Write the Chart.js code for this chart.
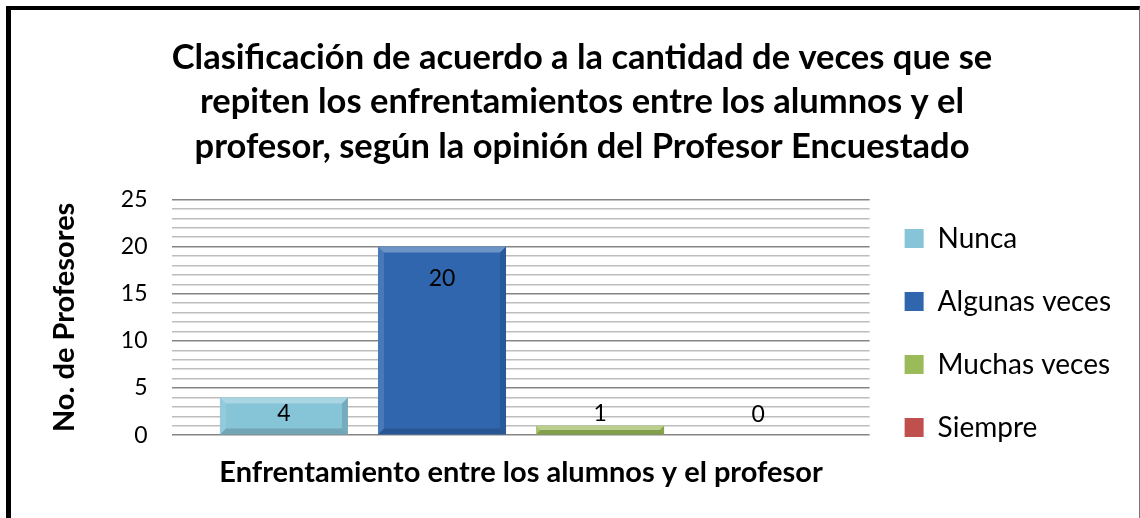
<!DOCTYPE html>
<html>
<head>
<meta charset="utf-8">
<script src="https://cdn.jsdelivr.net/npm/chart.js@4"></script>
<style>
    body { margin: 0; background: #fff; }
    #frame {
        position: absolute; left: 6px; top: 6px; width: 1128px; height: 520px;
        border-left: 5px solid #000; border-top: 4px solid #000; border-right: 1px solid #777;
    }
    #wrap { position: absolute; left: 0; top: 0; width: 1128px; height: 508px; }
</style>
</head>
<body>
<div id="frame"><div id="wrap"><canvas id="barChart"></canvas></div></div>
<script>
const titleLines = [
    "Clasificación de acuerdo a la cantidad de veces que se",
    "repiten los enfrentamientos entre los alumnos y el",
    "profesor, según la opinión del Profesor Encuestado"
];
const categories = ["Enfrentamiento entre los alumnos y el profesor"];
const seriesNames = ["Nunca", "Algunas veces", "Muchas veces", "Siempre"];
const seriesValues = [4, 20, 1, 0];
const seriesColors = ["#86C4D7", "#2F66AE", "#9BBB59", "#C0504D"];
const yTicks = [0, 5, 10, 15, 20, 25];

const FONT = "Lato, 'Open Sans', sans-serif";

// Excel-ish bevel on top of each bar
const bevelPlugin = {
    id: "bevel",
    afterDatasetsDraw(chart) {
        const ctx = chart.ctx;
        chart.data.datasets.forEach((ds, i) => {
            chart.getDatasetMeta(i).data.forEach(el => {
                const h = el.base - el.y;
                if (h <= 0) return;
                const l = el.x - el.width / 2, r = el.x + el.width / 2;
                const t = el.y, b = el.base;
                const s = Math.min(6, h / 2);
                ctx.save();
                ctx.fillStyle = "rgba(255,255,255,0.3)";
                ctx.beginPath();
                ctx.moveTo(l, t); ctx.lineTo(r, t); ctx.lineTo(r - s, t + s); ctx.lineTo(l + s, t + s);
                ctx.fill();
                ctx.fillStyle = "rgba(255,255,255,0.12)";
                ctx.beginPath();
                ctx.moveTo(l, t); ctx.lineTo(l + s, t + s); ctx.lineTo(l + s, b - s); ctx.lineTo(l, b);
                ctx.fill();
                ctx.fillStyle = "rgba(0,0,0,0.12)";
                ctx.beginPath();
                ctx.moveTo(r, t); ctx.lineTo(r - s, t + s); ctx.lineTo(r - s, b - s); ctx.lineTo(r, b);
                ctx.fill();
                ctx.fillStyle = "rgba(0,0,0,0.15)";
                ctx.beginPath();
                ctx.moveTo(l, b); ctx.lineTo(r, b); ctx.lineTo(r - s, b - s); ctx.lineTo(l + s, b - s);
                ctx.fill();
                ctx.restore();
            });
        });
    }
};

// value labels, inside end of the bar or just above the baseline
const valueLabels = {
    id: "valueLabels",
    afterDatasetsDraw(chart) {
        const ctx = chart.ctx;
        ctx.save();
        ctx.font = "23px " + FONT;
        ctx.fillStyle = "#000";
        ctx.textAlign = "center";
        ctx.textBaseline = "middle";
        chart.data.datasets.forEach((ds, i) => {
            chart.getDatasetMeta(i).data.forEach((el, j) => {
                const y = Math.min(el.y + 32, el.base - 21);
                ctx.fillText(String(ds.data[j]), el.x, y);
            });
        });
        ctx.restore();
    }
};

new Chart(document.getElementById("barChart"), {
    type: "bar",
    data: {
        labels: categories,
        datasets: seriesNames.map((name, i) => ({
            label: name,
            data: [seriesValues[i]],
            backgroundColor: seriesColors[i],
            borderWidth: 0,
            categoryPercentage: 0.907,
            barPercentage: 0.81
        }))
    },
    options: {
        responsive: true,
        maintainAspectRatio: false,
        animation: false,
        layout: { padding: { left: 32, right: 18, bottom: 24 } },
        plugins: {
            tooltip: { enabled: false },
            title: {
                display: true,
                text: titleLines,
                color: "#000",
                font: { family: FONT, size: 34.5, weight: "bold", lineHeight: 1.28 },
                padding: { top: 26, bottom: 31 }
            },
            legend: {
                position: "right",
                title: {
                    display: true,
                    text: "",
                    font: { size: 10, lineHeight: 1.2 },
                    padding: { top: 150, bottom: 0 }
                },
                labels: {
                    color: "#000",
                    font: { family: FONT, size: 28 },
                    boxWidth: 19,
                    boxHeight: 19,
                    padding: 35
                }
            }
        },
        scales: {
            x: {
                grid: { display: false },
                border: { display: false },
                ticks: { display: false },
                title: {
                    display: true,
                    text: categories[0],
                    color: "#000",
                    font: { family: FONT, size: 29, weight: "bold" },
                    padding: { top: 12 }
                }
            },
            y: {
                min: 0,
                max: 25,
                border: { display: false },
                grid: {
                    drawTicks: false,
                    color: c => (c.tick && c.tick.value % 5 === 0) ? "#858585" : "#bdbdbd",
                    lineWidth: 1.5
                },
                ticks: {
                    stepSize: 1,
                    autoSkip: false,
                    padding: 25,
                    color: "#000",
                    font: { family: FONT, size: 23 },
                    callback: v => yTicks.includes(v) ? v : ""
                },
                title: {
                    display: true,
                    text: "No. de Profesores",
                    color: "#000",
                    font: { family: FONT, size: 29, weight: "bold" },
                    padding: { bottom: 14 }
                }
            }
        }
    },
    plugins: [bevelPlugin, valueLabels]
});
</script>
</body>
</html>
